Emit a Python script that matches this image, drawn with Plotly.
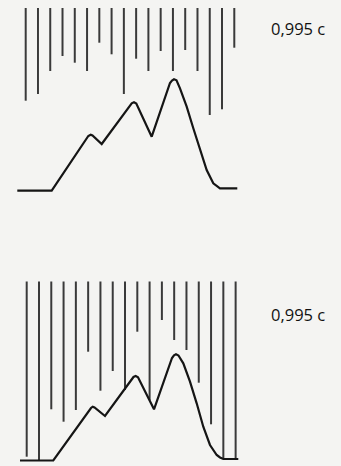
import plotly.graph_objects as go

# ---------------- data ----------------
label_text = "0,995 c"

# Top panel: 18 hanging lines (lower end height above baseline), common top height
top_line_idx = list(range(18))
top_line_bottom = [89.3, 96, 119, 134, 127.3, 119, 147.3, 135.7, 96, 131.3,
                   119, 139, 119, 140, 119, 75, 80.7, 142.3]
top_line_top = 182

# Top panel curve
top_curve_x = [-0.685, 2.119, 5.102, 5.297, 5.444, 6.194, 8.639, 8.826, 9.014,
               10.269, 11.760, 11.923, 12.086, 12.290, 12.575, 13.121, 13.659,
               14.205, 14.751, 15.289, 15.59, 15.835, 17.245]
top_curve_y = [-0.7, -0.7, 54, 55.3, 54.5, 46, 86.7, 87.7, 86.5,
               53.3, 107, 109.5, 110.7, 109.7, 101.7, 83.3, 61.7,
               40, 20, 6.7, 3.5, 1.7, 1.7]

# Bottom panel: 18 hanging lines
bot_line_idx = list(range(18))
bot_line_bottom = [3.3, 0, 50.7, 38.3, 50, 108.3, 69.3, 89, 70, 128.3,
                   60, 140, 120, 110, 77.3, 35.7, 1, 1]
bot_line_top = 178.5

# Bottom panel curve
bot_curve_x = [-0.545, 2.164, 5.232, 5.370, 5.517, 6.371, 8.690, 8.869, 9.056,
               10.358, 11.823, 11.986, 12.148, 12.351, 12.742, 13.287, 13.832,
               14.369, 14.914, 15.460, 15.73, 15.997, 17.218]
bot_curve_y = [-0.5, -0.5, 52, 53.3, 52.5, 44, 83, 84, 82.8,
               50.7, 102, 104.7, 105.7, 104.5, 96.7, 78.3, 56.7,
               33.3, 15, 5, 2.5, 1, 1]

# ---------------- style ----------------
BG = "#f4f4f2"
LINE_COL = "#3a3a3a"
CURVE_COL = "#151515"


def hanging(idx, bottoms, top):
    xs, ys = [], []
    for i, b in zip(idx, bottoms):
        xs += [i, i, None]
        ys += [b, top, None]
    return xs, ys


fig = go.Figure()

tx, ty = hanging(top_line_idx, top_line_bottom, top_line_top)
fig.add_trace(go.Scatter(x=tx, y=ty, mode="lines", xaxis="x", yaxis="y",
                         line=dict(color=LINE_COL, width=2), hoverinfo="skip"))
fig.add_trace(go.Scatter(x=top_curve_x, y=top_curve_y, mode="lines", xaxis="x", yaxis="y",
                         line=dict(color=CURVE_COL, width=2.2, shape="linear"),
                         hoverinfo="skip"))

bx, by = hanging(bot_line_idx, bot_line_bottom, bot_line_top)
fig.add_trace(go.Scatter(x=bx, y=by, mode="lines", xaxis="x2", yaxis="y2",
                         line=dict(color=LINE_COL, width=2), hoverinfo="skip"))
fig.add_trace(go.Scatter(x=bot_curve_x, y=bot_curve_y, mode="lines", xaxis="x2", yaxis="y2",
                         line=dict(color=CURVE_COL, width=2.2, shape="linear"),
                         hoverinfo="skip"))

ax_common = dict(visible=False, showgrid=False, zeroline=False, fixedrange=True)
label_font = dict(family="Open Sans", size=16.5, color="#111111", weight=500)

fig.update_layout(
    width=341, height=466,
    margin=dict(l=0, r=0, t=0, b=0),
    paper_bgcolor=BG, plot_bgcolor=BG,
    showlegend=False,
    xaxis=dict(domain=[0, 1], range=[-2.0946, 25.697], anchor="y", **ax_common),
    yaxis=dict(domain=[0.5, 1], range=[-43, 190], anchor="x", **ax_common),
    xaxis2=dict(domain=[0, 1], range=[-2.1725, 25.574], anchor="y2", **ax_common),
    yaxis2=dict(domain=[0, 0.5], range=[-6, 227], anchor="x2", **ax_common),
    annotations=[
        dict(text=label_text, xref="paper", yref="paper", x=0.790, y=0.939,
             xanchor="left", yanchor="middle", showarrow=False, font=label_font),
        dict(text=label_text, xref="paper", yref="paper", x=0.790, y=0.3255,
             xanchor="left", yanchor="middle", showarrow=False, font=label_font),
    ],
)

fig.write_html(
    "out.html",
    config={"displayModeBar": False},
    post_script=("document.body.style.margin='0';"
                 "document.body.style.overflow='hidden';"
                 "document.body.style.background='" + BG + "';"),
)
